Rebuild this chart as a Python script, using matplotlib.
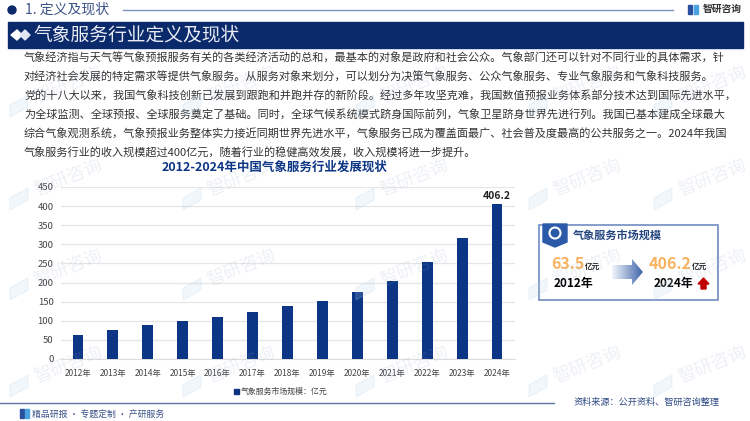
import numpy as np
from matplotlib import pyplot as plt
from matplotlib.patches import Rectangle, Polygon, Circle

plt.rcParams['font.family'] = ['Noto Sans CJK SC', 'DejaVu Sans']

years = ["2012年", "2013年", "2014年", "2015年", "2016年", "2017年", "2018年",
         "2019年", "2020年", "2021年", "2022年", "2023年", "2024年"]
scale = [63.5, 75, 88, 99, 110, 123, 138, 151, 175, 204, 253, 316, 406.2]
yticks = [0, 50, 100, 150, 200, 250, 300, 350, 400, 450]

body_lines = [
    "气象经济指与天气等气象预报服务有关的各类经济活动的总和，最基本的对象是政府和社会公众。气象部门还可以针对不同行业的具体需求，针",
    "对经济社会发展的特定需求等提供气象服务。从服务对象来划分，可以划分为决策气象服务、公众气象服务、专业气象服务和气象科技服务。",
    "党的十八大以来，我国气象科技创新已发展到跟跑和并跑并存的新阶段。经过多年攻坚克难，我国数值预报业务体系部分技术达到国际先进水平，",
    "为全球监测、全球预报、全球服务奠定了基础。同时，全球气候系统模式跻身国际前列，气象卫星跻身世界先进行列。我国已基本建成全球最大",
    "综合气象观测系统，气象预报业务整体实力接近同期世界先进水平，气象服务已成为覆盖面最广、社会普及度最高的公共服务之一。2024年我国",
    "气象服务行业的收入规模超过400亿元，随着行业的稳健高效发展，收入规模将进一步提升。",
]

navy = "#0b2a6b"
blue = "#0c3585"
W, H = 750, 421

fig = plt.figure(figsize=(W / 100, H / 100), dpi=100, facecolor="white")

# page layer in pixel coordinates
bg = fig.add_axes([0, 0, 1, 1])
bg.set_xlim(0, W)
bg.set_ylim(H, 0)
bg.axis("off")

# header
bg.add_patch(Circle((12, 10), 4, color=navy))
bg.text(25, 10, "1. 定义及现状", fontsize=10, color="#3c5488", va="center")
bg.plot([123, 673], [9.5, 9.5], color="#7f93b8", lw=1)
bg.text(703, 9, "智研咨询", fontsize=7, color="#333333", va="center", weight="bold")
bg.add_patch(Rectangle((688, 5), 4, 9, color="#2a4f9c"))
bg.add_patch(Rectangle((694, 5), 4, 9, color="#4aa3e0"))
bg.add_patch(Rectangle((8, 22), 735, 26, color=navy))
bg.add_patch(Polygon([(11, 35), (17, 30), (22, 35), (17, 40)], color="white"))
bg.add_patch(Polygon([(20, 35), (25, 30), (30, 35), (25, 40)], color="#dfe5f2"))
bg.text(33, 35, "气象服务行业定义及现状", fontsize=13.5, color="#e8ecf5", va="center")

for i, line in enumerate(body_lines):
    bg.text(24, 58 + 19 * i, line, fontsize=8, color="#333333", va="center")

bg.text(275, 167, "2012-2024年中国气象服务行业发展现状", fontsize=9, color=blue,
        weight="bold", ha="center", va="center")

# footer
bg.plot([0, 554], [403, 403], color="#5f74a3", lw=1)
bg.add_patch(Rectangle((20, 409), 4, 9, color="#2a4f9c"))
bg.add_patch(Rectangle((25, 409), 4, 9, color="#4aa3e0"))
bg.text(32, 414, "精品研报 · 专题定制 · 产研服务", fontsize=6.4, color="#3c5488", va="center")
bg.text(574, 402, "资料来源：公开资料、智研咨询整理", fontsize=6.6, color="#2f4a85", va="center")

# legend
bg.add_patch(Rectangle((234, 389), 4.5, 4.5, color=blue))
bg.text(241, 391, "气象服务市场规模：亿元", fontsize=5.7, color="#444444", va="center")

# summary card
bg.add_patch(Rectangle((539, 225), 179, 75, fc="white", ec="#6f8cc0", lw=1.2))
bg.add_patch(Polygon([(543, 224), (567, 224), (567, 242), (555, 247), (543, 242)], color="#2a5aa8"))
bg.add_patch(Circle((555, 233), 5.5, fc="none", ec="white", lw=1.5))
bg.text(573, 235, "气象服务市场规模", fontsize=8, color="#24457f", weight="bold", va="center")
bg.text(551, 264, "63.5", fontsize=11.5, color="#f9b25f", weight="bold", va="center")
bg.text(585, 266, "亿元", fontsize=5.5, color="#222222", weight="bold", va="center")
bg.text(554, 284, "2012年", fontsize=8.5, color="black", weight="bold", va="center")
bg.text(649, 264, "406.2", fontsize=11.5, color="#f9b25f", weight="bold", va="center")
bg.text(692, 266, "亿元", fontsize=5.5, color="#222222", weight="bold", va="center")
bg.text(654, 284, "2024年", fontsize=8.5, color="black", weight="bold", va="center")

# gradient arrow
arrow = Polygon([(612, 265), (632, 265), (632, 259), (643, 272), (632, 285), (632, 279), (612, 279)],
                fc="none", ec="none")
bg.add_patch(arrow)
grad = bg.imshow(np.linspace(0, 1, 64).reshape(1, -1), extent=(612, 643, 285, 259), aspect="auto",
                 cmap=plt.matplotlib.colors.LinearSegmentedColormap.from_list("g", ["#f2f5fb", "#3f66ab"]),
                 zorder=2)
grad.set_clip_path(arrow)
bg.set_xlim(0, W)
bg.set_ylim(H, 0)

bg.add_patch(Polygon([(703.5, 278), (709, 284), (706, 284), (706, 289), (701, 289), (701, 284), (698, 284)],
                     color="#c00000"))

# bar chart
ax = fig.add_axes([60.5 / W, 1 - 359 / H, 454 / W, 172 / H])
ax.patch.set_alpha(0)
x = np.arange(len(years))
ax.bar(x, scale, width=0.31, color=blue, zorder=3)
ax.set_xlim(-0.5, len(years) - 0.5)
ax.set_ylim(0, 450)
ax.set_yticks(yticks)
ax.set_xticks(x, years)
ax.tick_params(axis="x", length=0, labelsize=6, labelcolor="#444444", pad=7)
ax.tick_params(axis="y", length=0, labelsize=6.8, labelcolor="#444444", pad=5)
ax.grid(axis="y", color="#e6e6e6", lw=0.9, zorder=0)
for s in ["top", "right", "left"]:
    ax.spines[s].set_visible(False)
ax.spines["bottom"].set_color("#dddddd")
ax.text(x[-1], scale[-1] + 7, "406.2", fontsize=7.5, weight="bold", color="#222222", ha="center", va="bottom")

# watermarks on top of everything
top = fig.add_axes([0, 0, 1, 1])
top.set_xlim(0, W)
top.set_ylim(H, 0)
top.axis("off")
top.patch.set_alpha(0)
for wx in [68, 241, 414, 587, 712]:
    for wy in [85, 178, 268, 365]:
        top.text(wx, wy, "智研咨询", fontsize=13, color="#8fa3c4", alpha=0.16, rotation=22,
                 ha="center", va="center")
        top.add_patch(Polygon([(wx - 58, wy + 20), (wx - 40, wy + 10), (wx - 40, wy + 22), (wx - 58, wy + 32)],
                              color="#b5d3ee", alpha=0.18))

fig.savefig("out.png", dpi=100)
